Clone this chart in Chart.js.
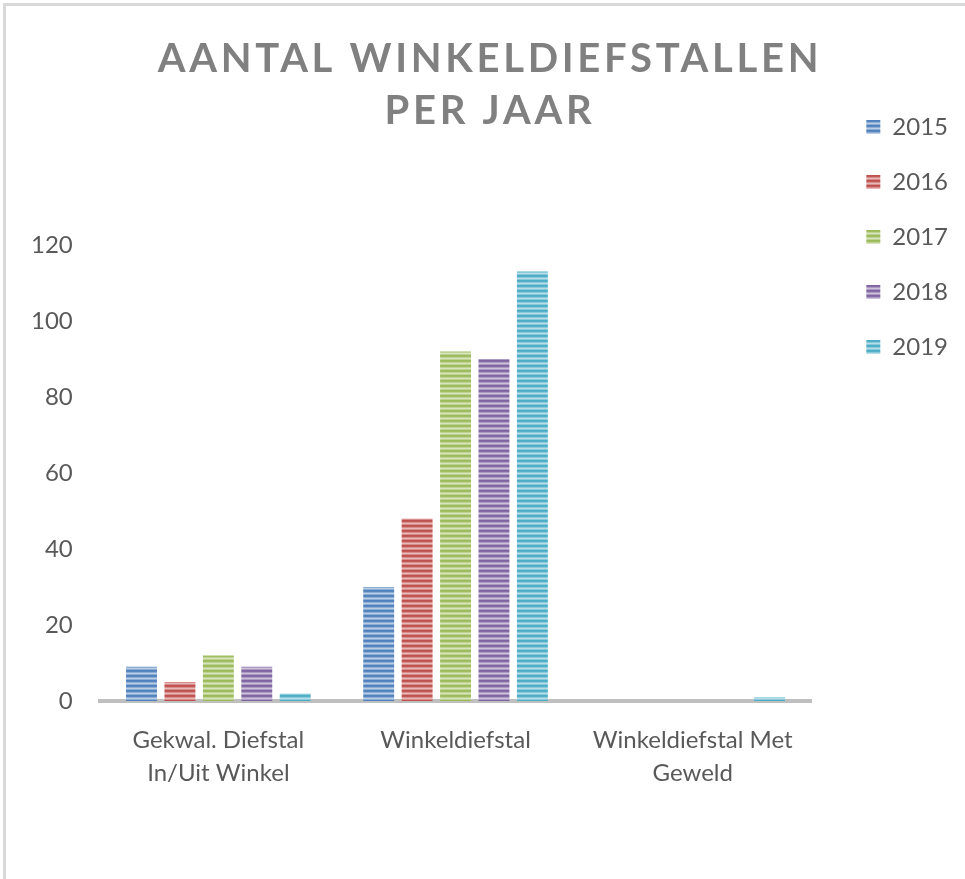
<!DOCTYPE html>
<html>
<head>
<meta charset="utf-8">
<script src="https://cdn.jsdelivr.net/npm/chart.js@4.4.1/dist/chart.umd.min.js"></script>
<style>
body{margin:0;background:#fff;}
#wrap{position:relative;width:965px;height:879px;overflow:hidden;}
#frame{position:absolute;left:3px;top:3px;right:-10px;bottom:-10px;border-left:3px solid #d9d9d9;border-top:3px solid #d9d9d9;pointer-events:none;}
</style>
</head>
<body>
<div id="wrap">
<canvas id="chart" width="965" height="879"></canvas>
<div id="frame"></div>
</div>
<script>
// data
let categories = [['Gekwal. Diefstal','In/Uit Winkel'],'Winkeldiefstal',['Winkeldiefstal Met','Geweld']];
let years = ['2015','2016','2017','2018','2019'];
let v2015 = [9, 30, 0];
let v2016 = [5, 48, 0];
let v2017 = [12, 92, 0];
let v2018 = [9, 90, 0];
let v2019 = [2, 113, 1];
let yTicks = [0, 20, 40, 60, 80, 100, 120];
let colors = ['#4f81bd','#c0504d','#9bbb59','#8064a2','#4bacc6'];

function mix(hex, t){
    let r = parseInt(hex.substr(1,2),16), g = parseInt(hex.substr(3,2),16), b = parseInt(hex.substr(5,2),16);
    r = Math.round(r+(255-r)*t); g = Math.round(g+(255-g)*t); b = Math.round(b+(255-b)*t);
    return `rgb(${r},${g},${b})`;
}
// horizontal stripes like the office fill
function stripes(hex){
    let c = document.createElement('canvas');
    c.width = 1; c.height = 5;
    let x = c.getContext('2d');
    let rows = [0, 0.05, 0.35, 0.6, 0.35];
    for(let i=0;i<rows.length;i++){
        x.fillStyle = mix(hex, rows[i]);
        x.fillRect(0,i,1,1);
    }
    return x.createPattern(c,'repeat');
}

// spaced out title letters
const spacedTitle = {
    id:'spacedTitle',
    beforeDraw(chart){
        let tb = chart.titleBlock;
        if(tb && !tb._spaced){
            let draw = tb.draw;
            tb.draw = function(){
                let ctx = chart.ctx;
                ctx.save();
                ctx.letterSpacing = '3.7px';
                ctx.translate(9,0);
                draw.apply(tb, arguments);
                ctx.restore();
            };
            tb._spaced = true;
        }
    }
};

let series = [v2015, v2016, v2017, v2018, v2019];
let datasets = [];
for(let i=0;i<years.length;i++){
    datasets.push({
        label: years[i],
        data: series[i],
        backgroundColor: stripes(colors[i]),
        borderWidth: 0,
        categoryPercentage: 0.81,
        barPercentage: 0.805
    });
}

let font = {family:'Lato', size:24};
new Chart(document.getElementById('chart'), {
    type:'bar',
    data:{labels:categories, datasets:datasets},
    plugins:[spacedTitle],
    options:{
        responsive:false,
        animation:false,
        layout:{padding:{left:4, right:7, top:0, bottom:66}},
        plugins:{
            title:{
                display:true,
                text:['AANTAL WINKELDIEFSTALLEN','PER JAAR'],
                color:'#808080',
                font:{family:'Lato', size:40, weight:'bold', lineHeight:1.3},
                padding:{top:33, bottom:108}
            },
            legend:{
                position:'right',
                align:'start',
                title:{display:true, text:'', padding:0, font:{size:84, lineHeight:1}},
                labels:{boxWidth:14, boxHeight:14, padding:31, color:'#595959', font:font}
            },
            tooltip:{enabled:false}
        },
        scales:{
            x:{
                grid:{display:false, drawTicks:false},
                border:{display:true, color:'#bfbfbf', width:4},
                ticks:{padding:23, color:'#595959', font:{family:'Lato', size:24, lineHeight:1.375}, maxRotation:0, autoSkip:false}
            },
            y:{
                min:yTicks[0],
                max:yTicks[yTicks.length-1],
                grid:{display:false, drawTicks:false},
                border:{display:false},
                ticks:{stepSize:yTicks[1]-yTicks[0], padding:27, color:'#595959', font:font}
            },
            yr:{
                position:'right',
                grid:{display:false, drawTicks:false},
                border:{display:false},
                ticks:{display:false},
                afterFit(s){ s.width = 24; }
            }
        }
    }
});
</script>
</body>
</html>
